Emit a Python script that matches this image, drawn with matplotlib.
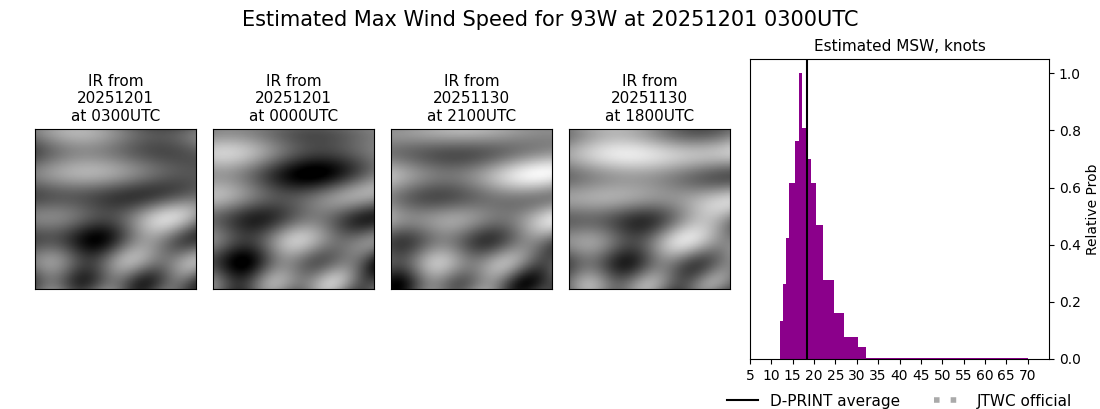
import numpy as np
import matplotlib.pyplot as plt

# histogram bin edges (knots) and relative probability
bin_edges = [12.08, 12.62, 13.48, 14.18, 15.58, 16.5, 17.13, 18.3, 19.23,
             20.47, 22.1, 24.67, 27.0, 30.27, 32.14, 70.0]
rel_prob = [0.134, 0.264, 0.424, 0.617, 0.762, 1.0, 0.81, 0.70, 0.617,
            0.47, 0.278, 0.161, 0.076, 0.041, 0.005]
dprint_avg = 18.4

ir_titles = ['IR from\n20251201\nat 0300UTC', 'IR from\n20251201\nat 0000UTC',
             'IR from\n20251130\nat 2100UTC', 'IR from\n20251130\nat 1800UTC']

fig = plt.figure(figsize=(11, 4.09), dpi=100)
fig.suptitle('Estimated Max Wind Speed for 93W at 20251201 0300UTC', fontsize=15, y=0.975)

# placeholder cloud-like textures for the IR thumbnails
yy, xx = np.mgrid[0:100, 0:100] / 100.0
lefts = [35, 213, 391, 569]
for k, (l, t) in enumerate(zip(lefts, ir_titles)):
    ax = fig.add_axes([l / 1100, 1 - 289 / 409, 161 / 1100, 160 / 409])
    img = (0.4 + 0.2 * np.sin(6 * xx + k) * np.cos(5 * yy - k)
           + 0.15 * np.sin(17 * xx * yy + 2 * k) + 0.1 * np.cos(23 * yy + 3 * k))
    if k >= 2:
        img = img + 0.25 * (1 - yy)
    ax.imshow(img, cmap='gray', vmin=0, vmax=1, aspect='auto')
    ax.set_xticks([])
    ax.set_yticks([])
    ax.set_title(t, fontsize=11)

ax = fig.add_axes([750 / 1100, 1 - 359 / 409, 299 / 1100, 300 / 409])
ax.stairs(rel_prob, bin_edges, fill=True, color='#8b008b')
ax.axvline(dprint_avg, color='black', lw=1.5, label='D-PRINT average')
ax.plot([], [], color='#aaaaaa', lw=4, ls=(0, (1, 2)), label='JTWC official')
ax.set_xlim(5, 75)
ax.set_ylim(0, 1.05)
ax.set_xticks(range(5, 75, 5))
ax.yaxis.tick_right()
ax.yaxis.set_label_position('right')
ax.set_ylabel('Relative Prob')
ax.set_title('Estimated MSW, knots', fontsize=11)
ax.legend(loc='upper center', bbox_to_anchor=(0.5, -0.07), ncol=2, frameon=False,
          fontsize=11, columnspacing=2.2)

plt.savefig('out.png', dpi=100)
